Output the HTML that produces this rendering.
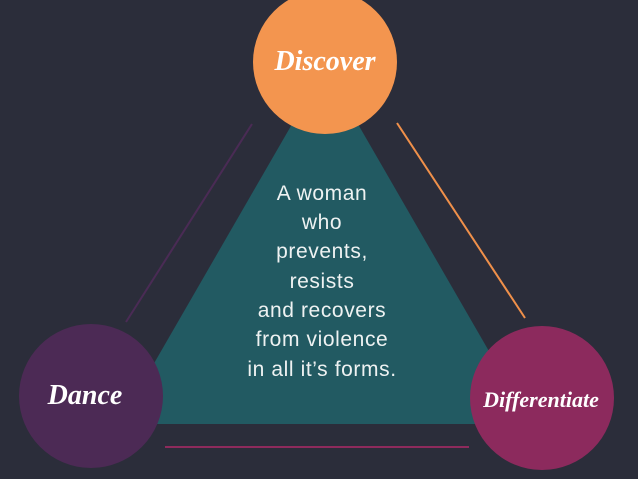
<!DOCTYPE html>
<html><head><style>
body{margin:0;width:638px;height:474px;background:#2b2d3a;overflow:hidden;}
</style></head><body>
<svg width="638" height="474" xmlns="http://www.w3.org/2000/svg">
<rect width="638" height="474" fill="#2b2d3a"/>
<polygon points="325,67 119,424 531,424" fill="#225a62"/>
<line x1="252" y1="124" x2="126" y2="322" stroke="#4a2b55" stroke-width="2"/>
<line x1="397" y1="123" x2="525" y2="318" stroke="#f0904a" stroke-width="2"/>
<line x1="165" y1="447" x2="469" y2="447" stroke="#8e2a5c" stroke-width="2"/>
<circle cx="325" cy="62" r="72" fill="#f3954f"/>
<circle cx="91" cy="396" r="72" fill="#4c2a55"/>
<circle cx="542" cy="398" r="72" fill="#8c2a5d"/>
<g font-family="Liberation Serif, serif" font-style="italic" font-weight="bold" fill="#fff" text-anchor="middle">
<text x="325" y="70" font-size="28">Discover</text>
<text x="85" y="404" font-size="28">Dance</text>
<text x="541" y="407" font-size="22">Differentiate</text>
</g>
<g font-family="Liberation Sans, sans-serif" font-size="21" letter-spacing="0.6" fill="#eef2f2" text-anchor="middle">
<text x="322" y="200">A woman</text>
<text x="322" y="229">who</text>
<text x="322" y="258">prevents,</text>
<text x="322" y="288">resists</text>
<text x="322" y="317">and recovers</text>
<text x="322" y="346">from violence</text>
<text x="322" y="376">in all it’s forms.</text>
</g>
</svg>
</body></html>
